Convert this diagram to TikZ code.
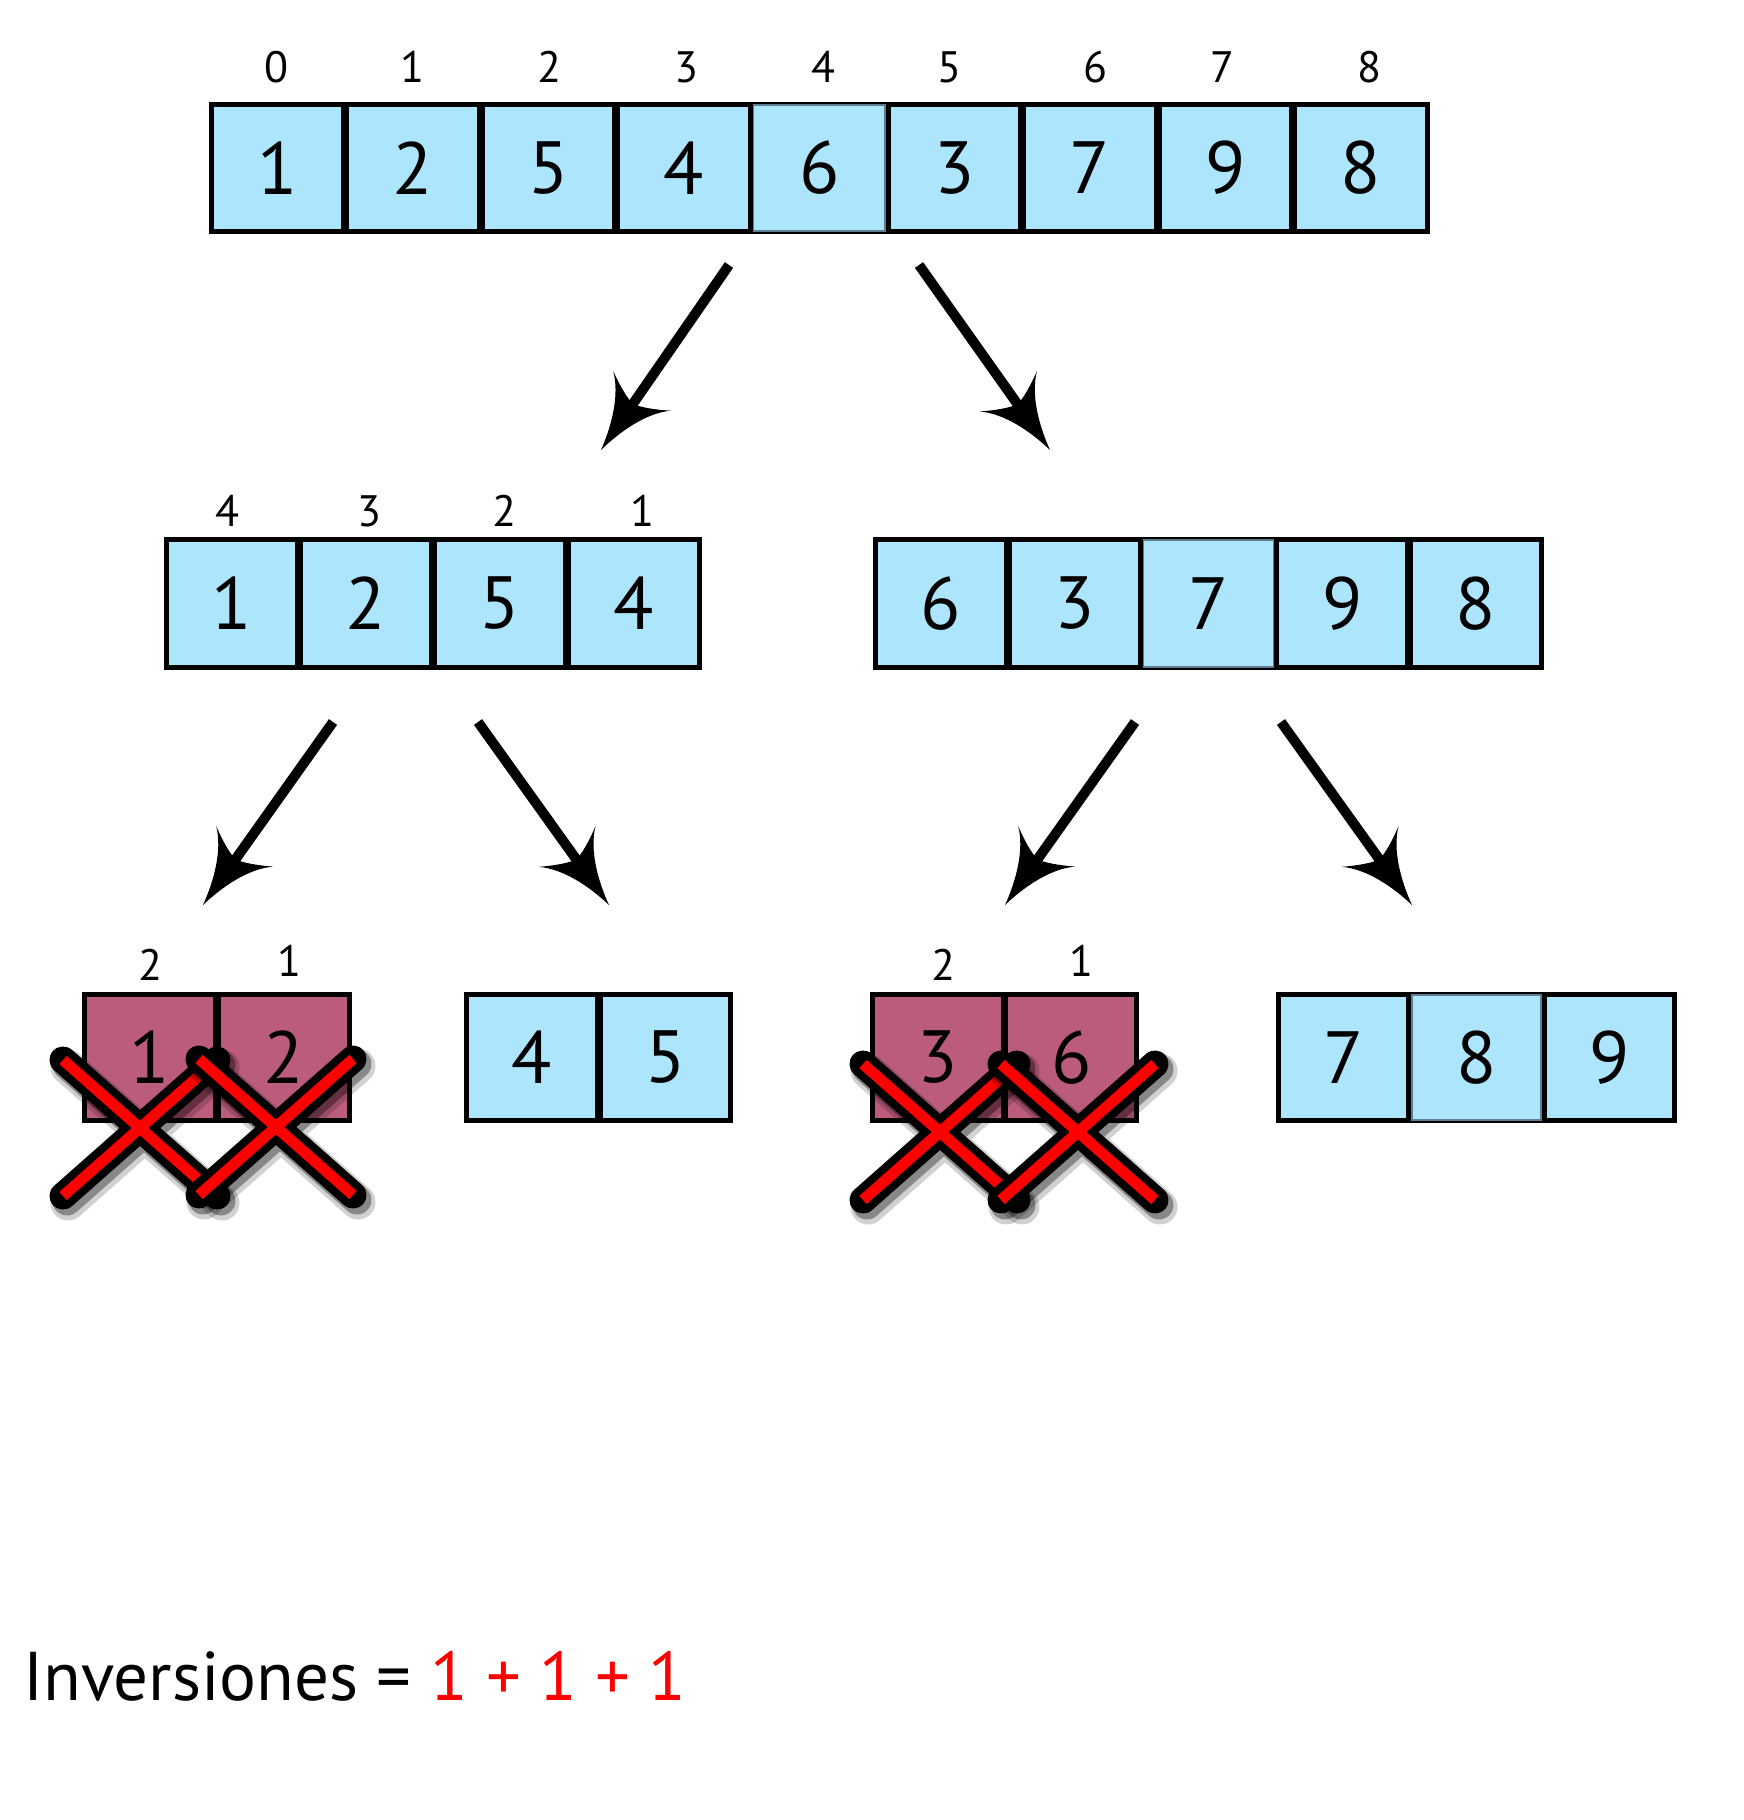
\documentclass[tikz,border=0pt]{standalone}
\usepackage{fontspec}
\setmainfont{PT Sans}
\usetikzlibrary{arrows.meta}

% flared, concave arrow head
\pgfdeclarearrow{
  name = Flare,
  setup code = {
    \pgfarrowssettipend{0pt}
    \pgfarrowssetlineend{-48pt}
    \pgfarrowssetbackend{-72pt}
    \pgfarrowsupperhullpoint{-72pt}{35pt}
    \pgfarrowsupperhullpoint{0pt}{0pt}
  },
  drawing code = {
    \pgfpathmoveto{\pgfqpoint{0pt}{0pt}}
    \pgfpathcurveto{\pgfqpoint{-26pt}{5pt}}{\pgfqpoint{-56pt}{16pt}}{\pgfqpoint{-72pt}{35pt}}
    \pgfpathcurveto{\pgfqpoint{-63pt}{20pt}}{\pgfqpoint{-58pt}{9pt}}{\pgfqpoint{-56pt}{0pt}}
    \pgfpathcurveto{\pgfqpoint{-58pt}{-9pt}}{\pgfqpoint{-63pt}{-20pt}}{\pgfqpoint{-72pt}{-35pt}}
    \pgfpathcurveto{\pgfqpoint{-56pt}{-16pt}}{\pgfqpoint{-26pt}{-5pt}}{\pgfqpoint{0pt}{0pt}}
    \pgfpathclose
    \pgfusepathqfill
  }
}

\definecolor{cellblue}{RGB}{173,229,252}
\definecolor{cellpink}{RGB}{188,92,124}
\definecolor{thinedge}{RGB}{95,125,145}

\tikzset{
  digits/.style={font=\fontsize{74}{74}\selectfont},
  idx/.style={font=\fontsize{44}{44}\selectfont, inner sep=0},
  cell/.style={rectangle, draw=black, line width=4, fill=cellblue, inner sep=0, digits},
  thincell/.style={rectangle, draw=thinedge, line width=1.5, fill=cellblue, inner sep=0, digits},
  pinkcell/.style={rectangle, draw=black, line width=3.5, fill=cellpink, inner sep=0, digits},
  rowback/.style={fill=black},
  split/.style={line width=10, -Flare},
  crossmark/.pic={
    \draw[black, opacity=0.18, line width=35, line cap=round, shift={(5,7)}]
      (-77,-68) -- (77,68) (-77,68) -- (77,-68);
    \draw[black, opacity=0.35, line width=29, line cap=round, shift={(4,5)}]
      (-77,-68) -- (77,68) (-77,68) -- (77,-68);
    \draw[black, line width=27, line cap=round]
      (-77,-68) -- (77,68) (-77,68) -- (77,-68);
    \draw[red, line width=11]
      (-77,-68) -- (77,68) (-77,68) -- (77,-68);
  }
}

\begin{document}
\begin{tikzpicture}[x=1pt, y=-1pt]
\useasboundingbox[fill=white] (0,0) rectangle (1744,1820);

% ---------- full array ----------
\fill[rowback] (209,102) rectangle (1430,234);
\foreach \v/\s [count=\i from 0] in {1/cell,2/cell,5/cell,4/cell,6/thincell,3/cell,7/cell,9/cell,8/cell}
  \node[\s, minimum width=131.4, minimum height=126] (t\i) at ({277.7+135.4*\i},168) {\v};
\foreach \l/\x [count=\i from 0] in {0/276,1/412,2/549,3/686,4/823,5/949,6/1095,7/1222,8/1369}
  \node[idx] (ti\i) at (\x,67) {\l};

% ---------- second level ----------
\fill[rowback] (164,537) rectangle (702,670);
\foreach \v [count=\i from 0] in {1,2,5,4}
  \node[cell, minimum width=130, minimum height=127] (l\i) at ({232+134*\i},603.5) {\v};
\foreach \l/\x [count=\i from 0] in {4/227,3/369,2/504,1/642}
  \node[idx] (li\i) at (\x,511) {\l};

\fill[rowback] (873,537) rectangle (1544,670);
\foreach \v/\s [count=\i from 0] in {6/cell,3/cell,7/thincell,9/cell,8/cell}
  \node[\s, minimum width=129.8, minimum height=127] (r\i) at ({940.9+133.8*\i},603.5) {\v};

% ---------- third level ----------
\fill[rowback] (82,992) rectangle (352,1123);
\foreach \v [count=\i from 0] in {1,2}
  \node[pinkcell, minimum width=130, minimum height=125] (a\i) at ({150+134*\i},1057.5) {\v};
\node[idx] (ai0) at (150,965) {2};
\node[idx] (ai1) at (289,961) {1};

\fill[rowback] (464,992) rectangle (733,1123);
\foreach \v [count=\i from 0] in {4,5}
  \node[cell, minimum width=129.5, minimum height=125] (b\i) at ({531.75+133.5*\i},1057.5) {\v};

\fill[rowback] (870,992) rectangle (1139,1123);
\foreach \v [count=\i from 0] in {3,6}
  \node[pinkcell, minimum width=129.5, minimum height=125] (c\i) at ({937.75+133.5*\i},1057.5) {\v};
\node[idx] (ci0) at (943,965) {2};
\node[idx] (ci1) at (1081,961) {1};

\fill[rowback] (1276,992) rectangle (1677,1123);
\foreach \v/\s [count=\i from 0] in {7/cell,8/thincell,9/cell}
  \node[\s, minimum width=129, minimum height=125] (d\i) at ({1343.5+133*\i},1057.5) {\v};

% ---------- splitting arrows ----------
\coordinate (s1a) at (729,265);  \coordinate (e1a) at (601,450);
\coordinate (s1b) at (919,265);  \coordinate (e1b) at (1050,450);
\coordinate (s2a) at (333,722);  \coordinate (e2a) at (203,905);
\coordinate (s2b) at (478,722);  \coordinate (e2b) at (609,905);
\coordinate (s2c) at (1135,722); \coordinate (e2c) at (1005,905);
\coordinate (s2d) at (1281,722); \coordinate (e2d) at (1412,905);
\foreach \k in {1a,1b,2a,2b,2c,2d}
  \draw[split] (s\k) -- (e\k);

% ---------- crossed-out pairs ----------
\pic at (140,1128) {crossmark};
\pic at (276,1127) {crossmark};
\pic at (940,1132) {crossmark};
\pic at (1078,1132) {crossmark};

% ---------- total ----------
\node[anchor=base west, inner sep=0, font=\fontsize{69}{69}\selectfont] (total) at (23,1700)
  {Inversiones = \textcolor{red}{1 + 1 + 1}};
\end{tikzpicture}
\end{document}
